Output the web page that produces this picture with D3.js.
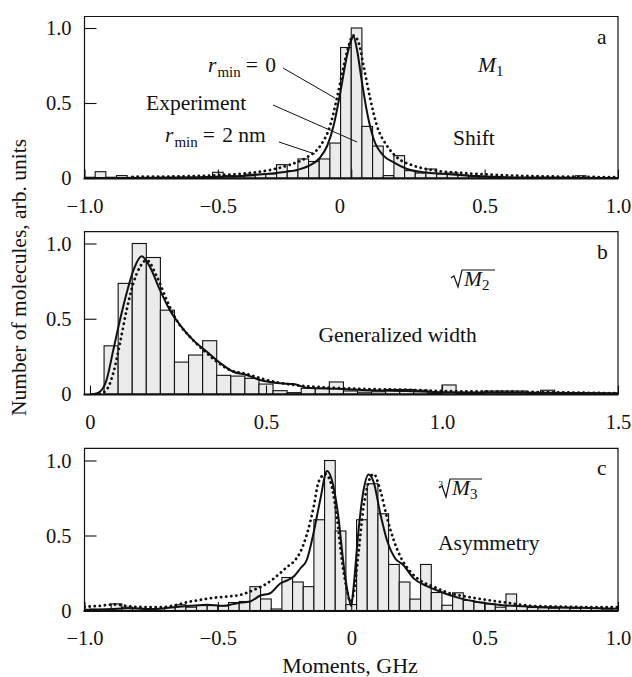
<!DOCTYPE html>
<html lang="en">
<head>
<meta charset="UTF-8">
<script src="https://cdn.jsdelivr.net/npm/d3@7"></script>
<style>
  body { margin: 0; background: #fff; }
  svg text { font-family: "Liberation Serif", "Times New Roman", serif; fill: #111; }
</style>
</head>
<body>
<div id="chart"></div>
<script>
const binW = 0.04;

// panel a: shift M1, bins from -1.0
const aStart = -1.0;
const aBars = [0.005, 0.042, 0.005, 0.016, 0.004, 0.004, 0.004, 0.005, 0.005, 0.006,
               0.006, 0.008, 0.038, 0.015, 0.012, 0.025, 0.025, 0.027, 0.089, 0.049,
               0.127, 0.11, 0.127, 0.233, 0.87, 1.0, 0.344, 0.213, 0.016, 0.149,
               0.049, 0.033, 0.06, 0.027, 0.033, 0.02, 0.016, 0.01, 0.006, 0.005,
               0.004, 0.004, 0.004, 0.004, 0.004, 0.004, 0.015, 0.004, 0.003, 0.003];
const aSolid = [[-1.0, 0], [-0.8, 0], [-0.6, 0.002], [-0.5, 0.008], [-0.4, 0.015], [-0.3, 0.03],
                [-0.25, 0.04], [-0.2, 0.055], [-0.16, 0.08], [-0.12, 0.13], [-0.09, 0.215],
                [-0.066, 0.35], [-0.041, 0.57], [-0.016, 0.815], [0.0, 0.92], [0.008, 0.945],
                [0.021, 0.86], [0.04, 0.64], [0.059, 0.44], [0.084, 0.26], [0.121, 0.149],
                [0.159, 0.104], [0.209, 0.06], [0.27, 0.038], [0.36, 0.027], [0.48, 0.011],
                [0.6, 0.004], [0.8, 0.001], [1.0, 0]];
const aDotted = [[-0.82, 0.008], [-0.6, 0.012], [-0.5, 0.018], [-0.4, 0.03], [-0.3, 0.055],
                 [-0.229, 0.089], [-0.166, 0.138], [-0.116, 0.215], [-0.079, 0.35], [-0.054, 0.53],
                 [-0.03, 0.73], [-0.01, 0.88], [0.008, 0.95], [0.028, 0.9], [0.046, 0.75],
                 [0.071, 0.53], [0.096, 0.35], [0.134, 0.215], [0.171, 0.138], [0.234, 0.082],
                 [0.296, 0.055], [0.421, 0.033], [0.546, 0.02], [0.7, 0.012], [0.85, 0.008], [1.0, 0.005]];

// panel b: generalized width sqrt(M2), bins from 0
const bStart = 0.0;
const bBars = [0, 0.32, 0.735, 1.0, 0.907, 0.557, 0.212, 0.259, 0.354, 0.124,
               0.119, 0.104, 0.066, 0.022, 0.009, 0.038, 0.038, 0.08, 0.02, 0.012,
               0.015, 0.03, 0.03, 0.025, 0.005, 0.06, 0.005, 0.004, 0.02, 0.02,
               0.02, 0.005, 0.025, 0.005, 0.004, 0.003, 0.003, 0.003];
const bSolid = [[0.0, 0], [0.01, 0], [0.028, 0.015], [0.047, 0.093], [0.066, 0.29], [0.085, 0.49],
                [0.104, 0.67], [0.123, 0.82], [0.147, 0.916], [0.17, 0.845], [0.199, 0.69],
                [0.227, 0.557], [0.256, 0.458], [0.293, 0.358], [0.332, 0.281], [0.369, 0.208],
                [0.407, 0.148], [0.445, 0.126], [0.483, 0.093], [0.54, 0.071], [0.578, 0.066],
                [0.616, 0.042], [0.7, 0.035], [0.8, 0.025], [0.9, 0.02], [1.0, 0.012],
                [1.2, 0.01], [1.5, 0.005]];
const bDotted = [[0.028, 0], [0.047, 0.027], [0.066, 0.137], [0.085, 0.336], [0.104, 0.557],
                 [0.123, 0.735], [0.142, 0.845], [0.161, 0.889], [0.19, 0.78], [0.218, 0.624],
                 [0.246, 0.49], [0.284, 0.38], [0.322, 0.292], [0.36, 0.215], [0.398, 0.159],
                 [0.445, 0.133], [0.502, 0.093], [0.578, 0.06], [0.634, 0.049], [0.7, 0.04],
                 [0.8, 0.032], [0.9, 0.028], [1.0, 0.02], [1.2, 0.015], [1.5, 0.005]];

// panel c: asymmetry cbrt(M3), bins centred on multiples of 0.04
const cStart = -0.98;
const cBars = [0.01, 0.01, 0.044, 0.022, 0.015, 0.013, 0.013, 0.02, 0.038, 0.022,
               0.033, 0.033, 0.031, 0.053, 0.06, 0.159, 0.077, 0.01, 0.22, 0.19,
               0.159, 0.605, 1.0, 0.53, 0.04, 0.605, 0.845, 0.645, 0.307, 0.19,
               0.076, 0.307, 0.12, 0.035, 0.118, 0.067, 0.055, 0.044, 0.022, 0.11,
               0.027, 0.02, 0.018, 0.015, 0.018, 0.015, 0.02, 0.015, 0.01];
const cSolid = [[-1.0, 0.005], [-0.94, 0.004], [-0.84, 0.015], [-0.74, 0.009], [-0.666, 0.022],
                [-0.604, 0.031], [-0.541, 0.038], [-0.479, 0.031], [-0.428, 0.049], [-0.379, 0.06],
                [-0.341, 0.1], [-0.304, 0.115], [-0.266, 0.18], [-0.241, 0.2], [-0.216, 0.226],
                [-0.191, 0.28], [-0.166, 0.34], [-0.141, 0.52], [-0.116, 0.74], [-0.091, 0.93],
                [-0.066, 0.82], [-0.048, 0.62], [-0.029, 0.31], [-0.01, 0.09], [0.0, 0.03],
                [0.009, 0.16], [0.027, 0.53], [0.046, 0.8], [0.065, 0.907], [0.084, 0.856],
                [0.109, 0.645], [0.134, 0.468], [0.165, 0.347], [0.196, 0.302], [0.234, 0.214],
                [0.284, 0.163], [0.334, 0.125], [0.409, 0.081], [0.484, 0.054], [0.559, 0.037],
                [0.684, 0.025], [0.8, 0.02], [1.0, 0.012]];
const cDotted = [[-1.0, 0.025], [-0.95, 0.03], [-0.89, 0.04], [-0.816, 0.025], [-0.716, 0.022],
                 [-0.666, 0.033], [-0.616, 0.055], [-0.566, 0.071], [-0.516, 0.085], [-0.466, 0.093],
                 [-0.416, 0.104], [-0.366, 0.137], [-0.316, 0.18], [-0.266, 0.25], [-0.241, 0.29],
                 [-0.216, 0.325], [-0.191, 0.39], [-0.166, 0.51], [-0.141, 0.69], [-0.122, 0.86],
                 [-0.097, 0.91], [-0.072, 0.82], [-0.054, 0.62], [-0.035, 0.335], [-0.016, 0.136],
                 [-0.004, 0.06], [0.009, 0.114], [0.027, 0.38], [0.046, 0.69], [0.065, 0.856],
                 [0.084, 0.91], [0.109, 0.8], [0.134, 0.62], [0.159, 0.47], [0.184, 0.36],
                 [0.221, 0.26], [0.259, 0.2], [0.309, 0.158], [0.371, 0.114], [0.434, 0.092],
                 [0.509, 0.07], [0.584, 0.052], [0.684, 0.03], [0.8, 0.025], [0.9, 0.022], [1.0, 0.022]];

const symTicks = [-1, -0.5, 0, 0.5, 1];
const widthTicks = [0, 0.5, 1.0, 1.5];
const yTicks = [0, 0.5, 1.0];

const W = 632, H = 677;
const left = 84.5, right = 618;

const svg = d3.select("#chart").append("svg")
    .attr("width", W).attr("height", H);

const fmt = d => d === 0 ? "0" : d3.format(".1f")(d);

function drawPanel(p) {
    const g = svg.append("g");
    const x = d3.scaleLinear().domain(p.xDomain).range([left, right]);
    const y = d3.scaleLinear().domain([0, 1]).range([p.y0, p.y1]);

    g.append("clipPath").attr("id", "clip-" + p.id)
        .append("rect").attr("x", left).attr("y", p.top)
        .attr("width", right - left).attr("height", p.y0 - p.top);

    const plot = g.append("g").attr("clip-path", "url(#clip-" + p.id + ")");

    // bars
    const bins = p.bars.map((v, i) => ({x0: p.start + i * binW, v: v})).filter(d => d.v > 0);
    plot.selectAll("rect.bar")
        .data(bins)
        .enter()
        .append("rect")
        .attr("class", "bar")
        .attr("x", d => x(d.x0))
        .attr("width", d => x(d.x0 + binW) - x(d.x0))
        .attr("y", d => y(d.v))
        .attr("height", d => y(0) - y(d.v))
        .attr("fill", "#ebebeb")
        .attr("stroke", "#111")
        .attr("stroke-width", 1.1);

    const line = d3.line().x(d => x(d[0])).y(d => y(d[1])).curve(d3.curveMonotoneX);

    plot.append("path").datum(p.dotted)
        .attr("d", line)
        .attr("fill", "none")
        .attr("stroke", "#111")
        .attr("stroke-width", 2.8)
        .attr("stroke-linecap", "round")
        .attr("stroke-dasharray", "0.1 5");

    plot.append("path").datum(p.solid)
        .attr("d", line)
        .attr("fill", "none")
        .attr("stroke", "#111")
        .attr("stroke-width", 2);

    // frame
    g.append("path")
        .attr("d", "M" + left + "," + p.y0 + "V" + p.top + "H" + right + "V" + p.y0)
        .attr("fill", "none").attr("stroke", "#111").attr("stroke-width", 1.2);
    g.append("line")
        .attr("x1", left - 1).attr("x2", right + 0.5)
        .attr("y1", p.y0 + 0.5).attr("y2", p.y0 + 0.5)
        .attr("stroke", "#111").attr("stroke-width", 2.2);

    // axes
    const xAxis = d3.axisBottom(x).tickValues(p.xTicks).tickFormat(fmt)
        .tickSizeInner(-9).tickSizeOuter(0).tickPadding(19.5);
    const gx = g.append("g").attr("transform", "translate(0," + (p.y0 + 0.5) + ")").call(xAxis);
    gx.select(".domain").remove();
    gx.selectAll("line").attr("stroke", "#111").attr("stroke-width", 1.1);
    gx.selectAll("text").style("font-size", "20.5px").attr("fill", "#111");
    if (p.id === "a") gx.selectAll("text").filter(d => d === 0).attr("dx", -12);

    const yAxis = d3.axisLeft(y).tickValues(yTicks).tickFormat(fmt)
        .tickSizeInner(-12).tickSizeOuter(0).tickPadding(13);
    const gy = g.append("g").attr("transform", "translate(" + left + ",0)").call(yAxis);
    gy.select(".domain").remove();
    gy.selectAll("line").attr("stroke", "#111").attr("stroke-width", 1.1);
    gy.selectAll("text").style("font-size", "20.5px").attr("fill", "#111");

    // panel letter
    g.append("text").attr("x", 597).attr("y", p.top + 27)
        .style("font-size", "21.5px").text(p.id);
    return g;
}

const ga = drawPanel({id: "a", top: 16.5, y0: 178, y1: 28, xDomain: [-1, 1], xTicks: symTicks,
                      start: aStart, bars: aBars, solid: aSolid, dotted: aDotted});
const gb = drawPanel({id: "b", top: 231.7, y0: 394, y1: 243.5, xDomain: [-0.0156, 1.5], xTicks: widthTicks,
                      start: bStart, bars: bBars, solid: bSolid, dotted: bDotted});
const gc = drawPanel({id: "c", top: 448.3, y0: 610.5, y1: 460.5, xDomain: [-1, 1], xTicks: symTicks,
                      start: cStart, bars: cBars, solid: cSolid, dotted: cDotted});

// annotations, panel a
function rmin(g, x, yb, rest) {
    const t = g.append("text").attr("x", x).attr("y", yb).style("font-size", "21.5px");
    t.append("tspan").style("font-style", "italic").text("r");
    t.append("tspan").style("font-size", "15px").attr("dx", 1).attr("dy", 5).text("min");
    t.append("tspan").attr("dy", -5).attr("dx", 5).text("= ");
    t.append("tspan").attr("dx", 2).text(rest);
}
rmin(ga, 208, 71.7, "0");
rmin(ga, 165, 141.7, "2 nm");
ga.append("text").attr("x", 146).attr("y", 110).style("font-size", "21.5px").text("Experiment");

const leaders = [[283, 68, 335, 98], [273, 105, 357, 142], [279, 142, 315, 154]];
ga.selectAll("line.leader").data(leaders).enter().append("line")
    .attr("class", "leader")
    .attr("x1", d => d[0]).attr("y1", d => d[1]).attr("x2", d => d[2]).attr("y2", d => d[3])
    .attr("stroke", "#111").attr("stroke-width", 1);

const m1 = ga.append("text").attr("x", 478).attr("y", 72).style("font-size", "21.5px");
m1.append("tspan").style("font-style", "italic").text("M");
m1.append("tspan").style("font-size", "15px").attr("dy", 4).text("1");
ga.append("text").attr("x", 453).attr("y", 145).style("font-size", "21.5px").text("Shift");

// radical sign helper
function radical(g, x, yb, yTop, w) {
    g.append("path")
        .attr("d", "M" + x + "," + (yb - 8) + "L" + (x + 3) + "," + (yb - 10) +
              "L" + (x + 7) + "," + (yb + 1) + "L" + (x + 11) + "," + yTop + "H" + (x + 11 + w))
        .attr("fill", "none").attr("stroke", "#111").attr("stroke-width", 1.2);
}

// panel b
radical(gb, 451, 286, 270, 33);
const m2 = gb.append("text").attr("x", 464).attr("y", 286).style("font-size", "21.5px");
m2.append("tspan").style("font-style", "italic").text("M");
m2.append("tspan").style("font-size", "15px").attr("dy", 4).text("2");
gb.append("text").attr("x", 318.5).attr("y", 342).style("font-size", "21.5px").text("Generalized width");

// panel c
radical(gc, 439, 496, 479, 32);
gc.append("text").attr("x", 438.5).attr("y", 487).style("font-size", "9px").text("3");
const m3 = gc.append("text").attr("x", 452).attr("y", 495).style("font-size", "21.5px");
m3.append("tspan").style("font-style", "italic").text("M");
m3.append("tspan").style("font-size", "15px").attr("dy", 4).text("3");
gc.append("text").attr("x", 438).attr("y", 550).style("font-size", "21.5px").text("Asymmetry");

// axis titles
svg.append("text")
    .attr("transform", "translate(26,277.5) rotate(-90)")
    .attr("text-anchor", "middle")
    .style("font-size", "21.5px")
    .text("Number of molecules, arb. units");

svg.append("text")
    .attr("x", 350).attr("y", 673)
    .attr("text-anchor", "middle")
    .style("font-size", "22px")
    .text("Moments, GHz");
</script>
</body>
</html>
